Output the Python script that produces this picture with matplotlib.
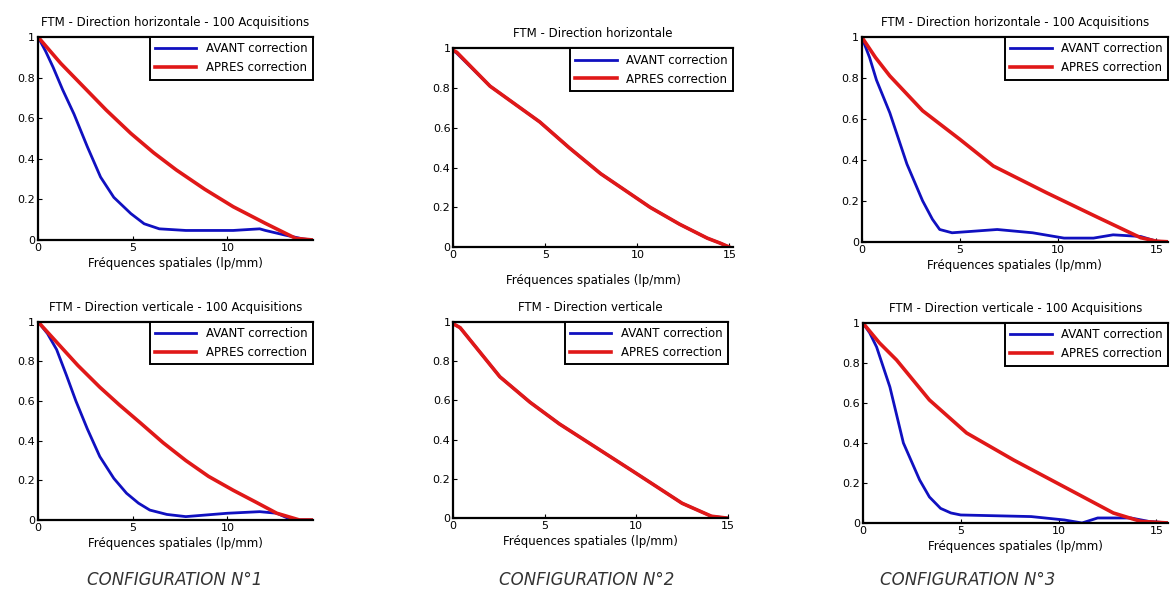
import matplotlib
matplotlib.use("Agg")
import matplotlib.pyplot as plt

# valeurs (FTM avant / apres correction)
x1_avant = [0, 0.4, 0.8, 1.3, 1.9, 2.6, 3.3, 4.0, 4.9, 5.6, 6.4, 7.8, 10.3, 11.7, 12.0, 13.0, 14.0, 14.5]
y1_avant = [1, 0.93, 0.85, 0.74, 0.62, 0.46, 0.31, 0.21, 0.13, 0.08, 0.055, 0.047, 0.047, 0.055, 0.047, 0.025, 0.005, 0]
x1_apres = [0, 1.2, 2.4, 3.6, 4.9, 6.1, 7.3, 8.8, 10.3, 12.0, 13.6, 14.5]
y1_apres = [1, 0.87, 0.755, 0.64, 0.525, 0.43, 0.345, 0.25, 0.164, 0.082, 0.008, 0]

x2_avant = [0, 0.2, 2.0, 4.7, 6.3, 8.0, 10.7, 12.3, 13.8, 14.5, 15.0]
y2_avant = [0.99, 0.975, 0.81, 0.63, 0.5, 0.37, 0.2, 0.115, 0.045, 0.02, 0]
x2_apres = [0, 0.2, 2.0, 4.7, 6.3, 8.0, 10.7, 12.3, 13.8, 14.5, 15.0]
y2_apres = [0.99, 0.98, 0.81, 0.63, 0.5, 0.37, 0.2, 0.115, 0.045, 0.02, 0]

x3_avant = [0, 0.4, 0.75, 1.43, 2.3, 3.1, 3.6, 3.97, 4.6, 6.9, 8.7, 10.3, 11.8, 12.8, 14.2, 15.0, 15.6]
y3_avant = [1, 0.9, 0.79, 0.63, 0.38, 0.2, 0.11, 0.06, 0.044, 0.06, 0.044, 0.018, 0.018, 0.034, 0.026, 0.003, 0]
x3_apres = [0, 0.7, 1.43, 3.1, 5.0, 6.7, 9.4, 12.0, 14.2, 15.0, 15.6]
y3_apres = [1, 0.9, 0.81, 0.64, 0.5, 0.37, 0.24, 0.12, 0.02, 0.003, 0]

x4_avant = [0, 0.5, 0.98, 1.5, 2.0, 2.6, 3.26, 4.0, 4.67, 5.3, 5.9, 6.8, 7.8, 10.0, 11.7, 12.6, 13.4, 14.5]
y4_avant = [1, 0.94, 0.86, 0.73, 0.6, 0.46, 0.32, 0.21, 0.135, 0.085, 0.05, 0.028, 0.017, 0.034, 0.042, 0.034, 0.0, 0]
x4_apres = [0, 1.05, 2.1, 3.26, 4.3, 5.4, 6.6, 7.8, 9.0, 10.3, 11.5, 12.6, 13.8, 14.5]
y4_apres = [1, 0.89, 0.78, 0.67, 0.58, 0.49, 0.39, 0.30, 0.22, 0.15, 0.09, 0.034, 0.0, 0]

x5_avant = [0, 0.38, 2.55, 4.2, 5.8, 7.8, 9.8, 11.2, 12.5, 14.1, 15.0]
y5_avant = [0.99, 0.97, 0.72, 0.59, 0.48, 0.36, 0.24, 0.155, 0.076, 0.01, 0]
x5_apres = [0, 0.38, 2.55, 4.2, 5.8, 7.8, 9.8, 11.2, 12.5, 14.1, 15.0]
y5_apres = [0.99, 0.97, 0.72, 0.59, 0.48, 0.36, 0.24, 0.155, 0.076, 0.01, 0]

x6_avant = [0, 0.35, 0.7, 1.38, 2.07, 2.9, 3.4, 3.97, 4.5, 5.0, 8.6, 10.3, 11.2, 12.0, 13.7, 14.6, 15.6]
y6_avant = [1, 0.95, 0.88, 0.68, 0.4, 0.215, 0.13, 0.073, 0.05, 0.04, 0.032, 0.015, 0.0, 0.025, 0.025, 0.008, 0]
x6_apres = [0, 0.85, 1.72, 3.4, 5.3, 7.7, 10.3, 12.8, 14.2, 15.6]
y6_apres = [1, 0.9, 0.815, 0.615, 0.45, 0.315, 0.18, 0.05, 0.008, 0]

titres = ["FTM - Direction horizontale - 100 Acquisitions",
          "FTM - Direction horizontale",
          "FTM - Direction horizontale - 100 Acquisitions",
          "FTM - Direction verticale - 100 Acquisitions",
          "FTM - Direction verticale",
          "FTM - Direction verticale - 100 Acquisitions"]
legendes = ["AVANT correction", "APRES correction"]
configs = ["CONFIGURATION N°1", "CONFIGURATION N°2", "CONFIGURATION N°3"]
xlabel = "Fréquences spatiales (lp/mm)"
yticks = [0, 0.2, 0.4, 0.6, 0.8, 1]
ytick_labels = ["0", "0.2", "0.4", "0.6", "0.8", "1"]

courbes = [(x1_avant, y1_avant, x1_apres, y1_apres),
           (x2_avant, y2_avant, x2_apres, y2_apres),
           (x3_avant, y3_avant, x3_apres, y3_apres),
           (x4_avant, y4_avant, x4_apres, y4_apres),
           (x5_avant, y5_avant, x5_apres, y5_apres),
           (x6_avant, y6_avant, x6_apres, y6_apres)]

# position des axes [left, bottom, width, height] et limites x
positions = [[0.0324, 0.598, 0.234, 0.340],
             [0.386, 0.586, 0.2385, 0.333],
             [0.734, 0.595, 0.261, 0.343],
             [0.0324, 0.129, 0.234, 0.332],
             [0.386, 0.132, 0.234, 0.329],
             [0.735, 0.124, 0.26, 0.335]]
xmax = [14.5, 15.2, 15.6, 14.5, 15.0, 15.6]
labelpads = [3, 10, 3, 3, 3, 3]

bleu = "#1010c0"
rouge = "#e01818"

fig = plt.figure(figsize=(11.74, 5.97), dpi=100)

for i in range(6):
    ax = fig.add_axes(positions[i])
    xa, ya, xb, yb = courbes[i]
    ax.plot(xa, ya, color=bleu, lw=2.0, label=legendes[0])
    ax.plot(xb, yb, color=rouge, lw=2.6, label=legendes[1])
    ax.set_xlim(0, xmax[i])
    ax.set_ylim(0, 1)
    ax.set_xticks([0, 5, 10, 15] if xmax[i] >= 15 else [0, 5, 10])
    ax.set_yticks(yticks)
    ax.set_yticklabels(ytick_labels)
    ax.tick_params(labelsize=8, length=3, direction="in", pad=2)
    for s in ["left", "bottom", "top"]:
        ax.spines[s].set_linewidth(1.6)
    ax.spines["right"].set_visible(False)
    ax.set_title(titres[i], fontsize=8.5, pad=8)
    ax.set_xlabel(xlabel, fontsize=8.5, labelpad=labelpads[i])
    leg = ax.legend(loc="upper right", fontsize=8.5, fancybox=False,
                    framealpha=1, edgecolor="black", borderpad=0.45,
                    labelspacing=0.5, handlelength=3.5, borderaxespad=0)
    leg.get_frame().set_linewidth(1.4)

# legendes de configuration sous chaque colonne
xs_conf = [0.149, 0.5, 0.824]
for j in range(3):
    fig.text(xs_conf[j], 0.028, configs[j], fontsize=12, style="italic",
             ha="center", va="center", color="#333333")

fig.savefig("out.png", dpi=100)
